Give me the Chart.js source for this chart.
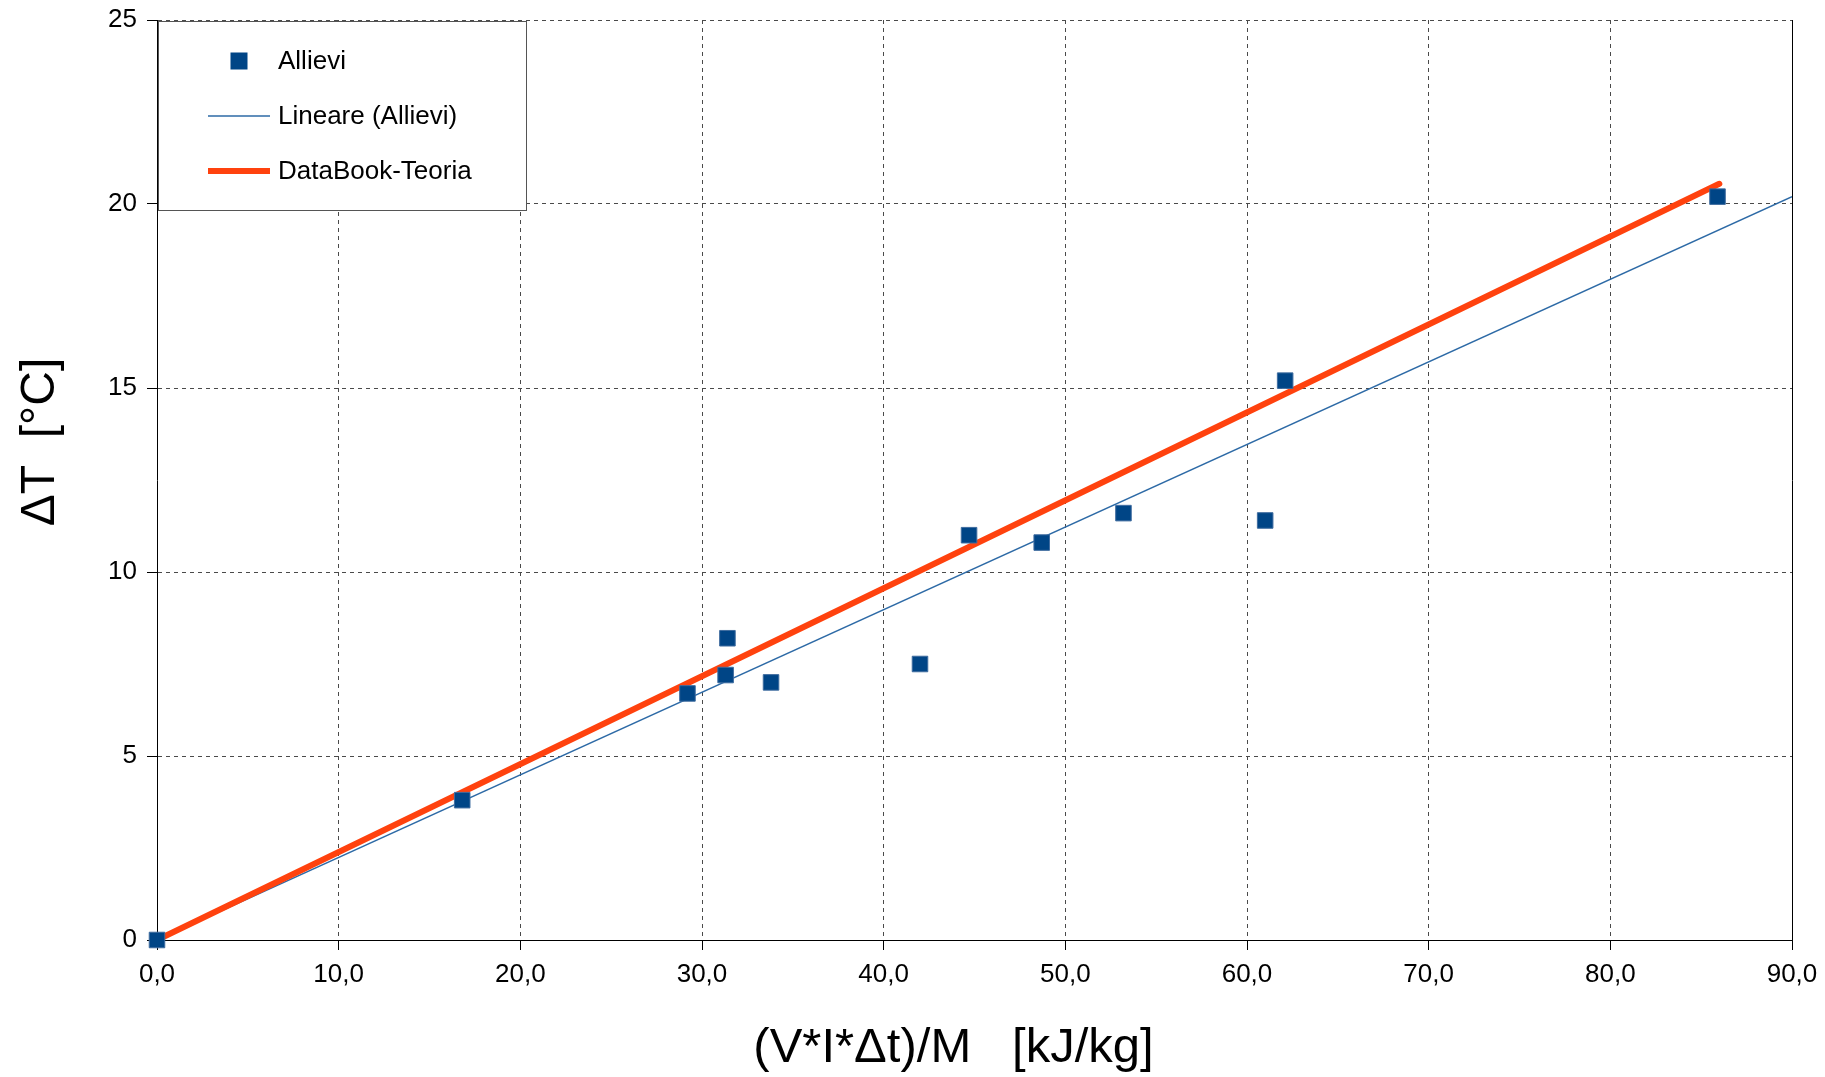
<!DOCTYPE html>
<html>
<head>
<meta charset="utf-8">
<script src="https://cdn.jsdelivr.net/npm/chart.js@4.4.1/dist/chart.umd.min.js"></script>
<style>
  html, body { margin: 0; padding: 0; background: #fff; }
  #wrap { width: 1825px; height: 1077px; position: relative; }
</style>
</head>
<body>
<div id="wrap"><canvas id="chart_deltaT"></canvas></div>
<script>
// measured points (kJ/kg, °C)
var allieviX = [0, 16.8, 29.2, 31.4, 31.3, 33.8, 42.0, 44.7, 48.7, 53.2, 61.0, 62.1, 85.9];
var allieviY = [0, 3.8, 6.7, 8.2, 7.2, 7.0, 7.5, 11.0, 10.8, 11.6, 11.4, 15.2, 20.2];
// trend line end points
var lineareX = [0, 90];
var lineareY = [0, 20.2];
// theory line
var teoriaX = [0, 86];
var teoriaY = [0, 20.55];

var xTickLabels = ['0,0', '10,0', '20,0', '30,0', '40,0', '50,0', '60,0', '70,0', '80,0', '90,0'];
var yTickLabels = ['0', '5', '10', '15', '20', '25'];
var xTitle = '(V*I*Δt)/M   [kJ/kg]';
var yTitle = 'ΔT  [°C]';

function toPoints(xs, ys) {
  return xs.map(function (x, i) { return { x: x, y: ys[i] }; });
}

var FONT = "'Liberation Sans', Arial, sans-serif";

var legendBox = {
  id: 'legendBox',
  afterDatasetsDraw: function (chart) {
    var ctx = chart.ctx;
    var area = chart.chartArea;
    var x0 = area.left + 1, y0 = area.top + 1;
    ctx.save();
    ctx.fillStyle = '#fff';
    ctx.fillRect(x0, y0, 368, 189);
    ctx.strokeStyle = '#555';
    ctx.lineWidth = 1;
    ctx.strokeRect(x0 + 0.5, y0 + 0.5, 368, 189);
    ctx.font = '26px ' + FONT;
    ctx.textBaseline = 'middle';
    ctx.textAlign = 'left';
    chart.data.datasets.forEach(function (ds, i) {
      var cy = y0 + 40 + i * 55;
      if (ds.showLine) {
        ctx.beginPath();
        ctx.strokeStyle = ds.borderColor;
        ctx.lineWidth = ds.borderWidth;
        ctx.moveTo(x0 + 50, cy);
        ctx.lineTo(x0 + 112, cy);
        ctx.stroke();
      } else {
        ctx.fillStyle = ds.backgroundColor;
        ctx.fillRect(x0 + 81 - 8.5, cy - 8.5, 17, 17);
      }
      ctx.fillStyle = '#000';
      ctx.fillText(ds.label, x0 + 120, cy + 1);
    });
    ctx.restore();
  }
};

// axis titles, placed like the original (slightly off-centre)
var axisTitles = {
  id: 'axisTitles',
  afterDraw: function (chart) {
    var ctx = chart.ctx;
    var area = chart.chartArea;
    var xs = chart.scales.x, ys = chart.scales.y;
    ctx.save();
    ctx.fillStyle = '#000';
    ctx.textAlign = 'center';
    ctx.textBaseline = 'middle';
    ctx.font = '49px ' + FONT;
    ctx.fillText(xTitle, (area.left + area.right) / 2 - 21, xs.bottom - 29);
    ctx.translate(ys.left + 41, (area.top + area.bottom) / 2 - 38);
    ctx.rotate(-Math.PI / 2);
    ctx.font = '48px ' + FONT;
    ctx.fillText(yTitle, 0, 0);
    ctx.restore();
  }
};

var chart_deltaT = new Chart(document.getElementById('chart_deltaT'), {
  type: 'scatter',
  data: {
    datasets: [
      {
        label: 'Allievi',
        data: toPoints(allieviX, allieviY),
        pointStyle: 'rect',
        pointRadius: 11,
        backgroundColor: '#004586',
        borderColor: '#3f6c9f',
        borderWidth: 1,
        showLine: false,
        clip: false,
        order: 0
      },
      {
        label: 'Lineare (Allievi)',
        data: toPoints(lineareX, lineareY),
        showLine: true,
        pointRadius: 0,
        borderColor: '#2d6aa6',
        borderWidth: 1.5,
        order: 2
      },
      {
        label: 'DataBook-Teoria',
        data: toPoints(teoriaX, teoriaY),
        showLine: true,
        pointRadius: 0,
        borderColor: '#ff420e',
        borderWidth: 6,
        borderCapStyle: 'round',
        clip: false,
        order: 1
      }
    ]
  },
  options: {
    animation: false,
    responsive: true,
    maintainAspectRatio: false,
    layout: { padding: { top: 20, right: 33, bottom: 0, left: 0 } },
    plugins: {
      legend: { display: false },
      tooltip: { enabled: false }
    },
    scales: {
      x: {
        type: 'linear',
        min: 0,
        max: 90,
        afterFit: function (scale) {
          scale.height = 137;
          scale.paddingLeft = 0;
          scale.paddingRight = 0;
        },
        ticks: {
          stepSize: 10,
          color: '#000',
          padding: 9,
          maxRotation: 0,
          font: { family: FONT, size: 26 },
          callback: function (v) { return xTickLabels[Math.round(v / 10)]; }
        },
        grid: { color: '#4a4a4a', tickLength: 10, tickBorderDash: [], tickColor: '#000' },
        border: { display: true, color: '#000', width: 1, dash: [4, 4] },
        title: { display: false }
      },
      y: {
        type: 'linear',
        min: 0,
        max: 25,
        afterFit: function (scale) {
          scale.width = 157;
          scale.paddingTop = 0;
          scale.paddingBottom = 0;
        },
        ticks: {
          stepSize: 5,
          color: '#000',
          padding: 10,
          font: { family: FONT, size: 26 },
          callback: function (v) { return yTickLabels[Math.round(v / 5)]; }
        },
        grid: { color: '#4a4a4a', tickLength: 10, tickBorderDash: [], tickColor: '#000' },
        border: { display: true, color: '#000', width: 1, dash: [4, 4] },
        title: { display: false }
      },
      y2: {
        type: 'linear',
        position: 'right',
        min: 0,
        max: 25,
        afterFit: function (scale) {
          scale.width = 0;
          scale.paddingTop = 0;
          scale.paddingBottom = 0;
        },
        ticks: { display: false },
        grid: { display: false },
        border: { display: true, color: '#000', width: 1 }
      }
    }
  },
  plugins: [legendBox, axisTitles, {
    id: 'whiteBg',
    beforeDraw: function (chart) {
      var ctx = chart.canvas.getContext('2d');
      ctx.save();
      ctx.globalCompositeOperation = 'destination-over';
      ctx.fillStyle = 'white';
      ctx.fillRect(0, 0, chart.canvas.width, chart.canvas.height);
      ctx.restore();
    }
  }]
});
</script>
</body>
</html>
